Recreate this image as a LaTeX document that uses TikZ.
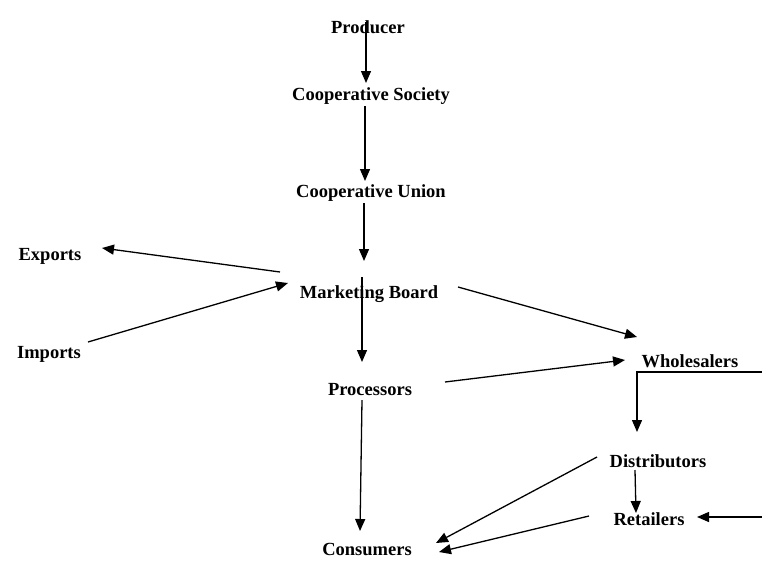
\documentclass[tikz,border=0pt]{standalone}
\usepackage{fontspec}
\setmainfont{Liberation Serif}
\usetikzlibrary{arrows.meta}
\begin{document}
\begin{tikzpicture}[x=1pt,y=-1pt,
  lbl/.style={anchor=base,inner sep=0pt,font=\fontsize{18.5}{20}\selectfont\bfseries},
  arr/.style={line width=1.3pt,-{Triangle[length=12pt,width=10pt]}}]
\useasboundingbox (0,0) rectangle (762,560);
\node[lbl] (prod)  at (368,33)  {Producer};
\node[lbl] (soc)   at (371,100) {Cooperative Society};
\node[lbl] (union) at (371,197) {Cooperative Union};
\node[lbl] (exp)   at (50,260)  {Exports};
\node[lbl] (mb)    at (369,298) {Marketing Board};
\node[lbl] (imp)   at (49,358)  {Imports};
\node[lbl] (proc)  at (370,395) {Processors};
\node[lbl] (whole) at (690,367) {Wholesalers};
\node[lbl] (dist)  at (658,467) {Distributors};
\node[lbl] (ret)   at (649,525) {Retailers};
\node[lbl] (cons)  at (367,555) {Consumers};
\coordinate (wr) at (762,372);
\coordinate (rr) at (762,517);
% vertical chain
\draw[arr] ([xshift=-2pt,yshift=11pt]prod.base) -- ([xshift=-5pt,yshift=17pt]soc.base);
\draw[arr] ([xshift=-6pt,yshift=-6pt]soc.base) -- ([xshift=-6pt,yshift=16pt]union.base);
\draw[arr] ([xshift=-7pt,yshift=-6pt]union.base) -- ([xshift=-5pt,yshift=37pt]mb.base);
\draw[arr] ([xshift=-7pt,yshift=21pt]mb.base) -- ([xshift=-8pt,yshift=33pt]proc.base);
\draw[arr] ([xshift=-8pt,yshift=-5pt]proc.base) -- ([xshift=-7pt,yshift=24pt]cons.base);
% board links
\draw[arr] ([xshift=-89pt,yshift=26pt]mb.base) -- ([xshift=52pt,yshift=12pt]exp.base);
\draw[arr] ([xshift=39pt,yshift=16pt]imp.base) -- ([xshift=-81pt,yshift=15pt]mb.base);
\draw[arr] ([xshift=89pt,yshift=11pt]mb.base) -- ([xshift=-53pt,yshift=30pt]whole.base);
\draw[arr] ([xshift=75pt,yshift=13pt]proc.base) -- ([xshift=-65pt,yshift=7pt]whole.base);
% wholesalers to distributors
\draw[arr] (wr) -- ([xshift=-53pt,yshift=-5pt]whole.base) -- ([xshift=-21pt,yshift=35pt]dist.base);
% distributors / retailers
\draw[arr] ([xshift=-61pt,yshift=10pt]dist.base) -- ([xshift=69pt,yshift=12pt]cons.base);
\draw[arr] ([xshift=-23pt,yshift=-3pt]dist.base) -- ([xshift=-13pt,yshift=12pt]ret.base);
\draw[arr] ([xshift=-60pt,yshift=9pt]ret.base) -- ([xshift=72pt,yshift=3pt]cons.base);
\draw[arr] (rr) -- ([xshift=48pt,yshift=8pt]ret.base);
\end{tikzpicture}
\end{document}
